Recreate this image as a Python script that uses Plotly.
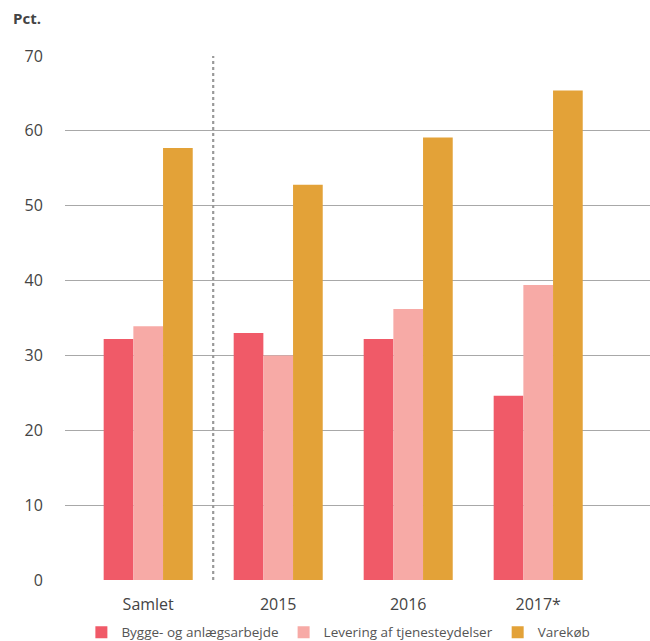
import plotly.graph_objects as go

categories = ["Samlet", "2015", "2016", "2017*"]
series_names = ["Bygge- og anlægsarbejde", "Levering af tjenesteydelser", "Varekøb"]
bygge = [32.2, 33.0, 32.2, 24.6]
levering = [33.9, 30.0, 36.2, 39.4]
varekob = [57.7, 52.8, 59.1, 65.4]
y_ticks = [0, 10, 20, 30, 40, 50, 60, 70]
colors = ["#F05A68", "#F7AAA6", "#E3A238"]

font_family = "Open Sans, Noto Sans, sans-serif"

fig = go.Figure()
for name, vals, col in zip(series_names, [bygge, levering, varekob], colors):
    fig.add_trace(go.Bar(
        x=categories, y=vals, name=name,
        marker=dict(color=col, line=dict(width=0)),
    ))

fig.add_shape(type="line", xref="x", yref="y", x0=0.5, x1=0.5, y0=0, y1=70,
              line=dict(color="#999999", width=2.2, dash="dot"), layer="above")

fig.update_layout(
    width=650, height=641,
    margin=dict(l=65, r=0, t=56, b=61, autoexpand=False),
    plot_bgcolor="white", paper_bgcolor="white",
    barmode="group", bargap=0.315, bargroupgap=0,
    font=dict(family=font_family, color="#444444", size=14),
    showlegend=True,
    legend=dict(orientation="h", x=0.028, xanchor="left", y=-0.1, yanchor="middle",
                font=dict(size=13.5, color="#555555"), itemwidth=30,
                traceorder="normal"),
    annotations=[dict(text="<b>Pct.</b>", xref="paper", yref="paper",
                      x=-0.092, y=1.072, xanchor="left", yanchor="middle",
                      showarrow=False, font=dict(size=15, color="#444444"))],
)
fig.update_xaxes(type="category", range=[-0.64, 3.86], showgrid=False,
                 showline=False, ticks="outside", ticklen=10, tickcolor="rgba(0,0,0,0)",
                 tickfont=dict(size=16, color="#444444"))
fig.update_yaxes(range=[0, 70], tickvals=y_ticks, showgrid=True, gridcolor="#a8a8a8",
                 gridwidth=1, zeroline=False, showline=False, ticks="outside", ticklen=18,
                 tickcolor="rgba(0,0,0,0)", tickfont=dict(size=16, color="#444444"))

fig.write_html("out.html", config={"displayModeBar": False},
               post_script="document.body.style.margin='0';document.body.style.overflow='hidden';")
